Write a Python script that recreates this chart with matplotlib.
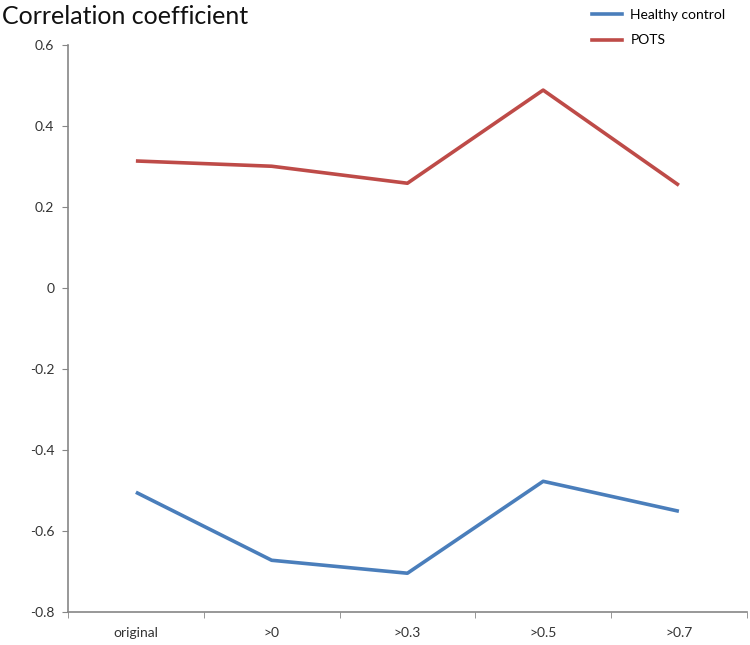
import matplotlib
matplotlib.use("Agg")
import matplotlib.pyplot as plt
from matplotlib.lines import Line2D

categories = ["original", ">0", ">0.3", ">0.5", ">0.7"]
healthy_control = [-0.504, -0.672, -0.704, -0.477, -0.551]
pots = [0.314, 0.301, 0.259, 0.489, 0.254]
yticks = [-0.8, -0.6, -0.4, -0.2, 0, 0.2, 0.4, 0.6]
ytick_labels = ["-0.8", "-0.6", "-0.4", "-0.2", "0", "0.2", "0.4", "0.6"]

plt.rcParams['font.family'] = ['Lato', 'DejaVu Sans']

fig = plt.figure(figsize=(7.5, 6.45), dpi=100)
ax = fig.add_axes([0.0907, 0.051, 0.905, 0.879])

x = list(range(len(categories)))
ax.plot(x, healthy_control, color="#4A7EBB", lw=2.6, solid_capstyle="butt")
ax.plot(x, pots, color="#BE4B48", lw=2.6, solid_capstyle="butt")

ax.set_xlim(-0.5, len(categories) - 0.5)
ax.set_ylim(-0.8, 0.6)
ax.set_yticks(yticks)
ax.set_yticklabels(ytick_labels)
ax.set_xticks(x)
ax.set_xticklabels(categories)
ax.set_xticks([i + 0.5 for i in range(-1, len(categories))], minor=True)
ax.tick_params(axis="x", which="major", length=0, pad=11, labelsize=10, colors="#333333")
ax.tick_params(axis="x", which="minor", length=4, color="#868686", direction="out")
ax.tick_params(axis="y", length=4, color="#868686", labelsize=10, colors="#333333", pad=6)
for side in ["top", "right"]:
    ax.spines[side].set_visible(False)
for side in ["left", "bottom"]:
    ax.spines[side].set_color("#868686")
    ax.spines[side].set_linewidth(1.2)

fig.text(0.002, 0.993, "Correlation coefficient", ha="left", va="top", fontsize=18, color="#111111")

handles = [Line2D([0], [0], color="#4A7EBB", lw=2.6),
           Line2D([0], [0], color="#BE4B48", lw=2.6)]
fig.legend(handles, ["Healthy control", "POTS"], loc="upper left",
           bbox_to_anchor=(0.772, 1.005), frameon=False, fontsize=10,
           handlelength=2.2, labelspacing=0.95, handletextpad=0.6)

fig.savefig("out.png", dpi=100)
